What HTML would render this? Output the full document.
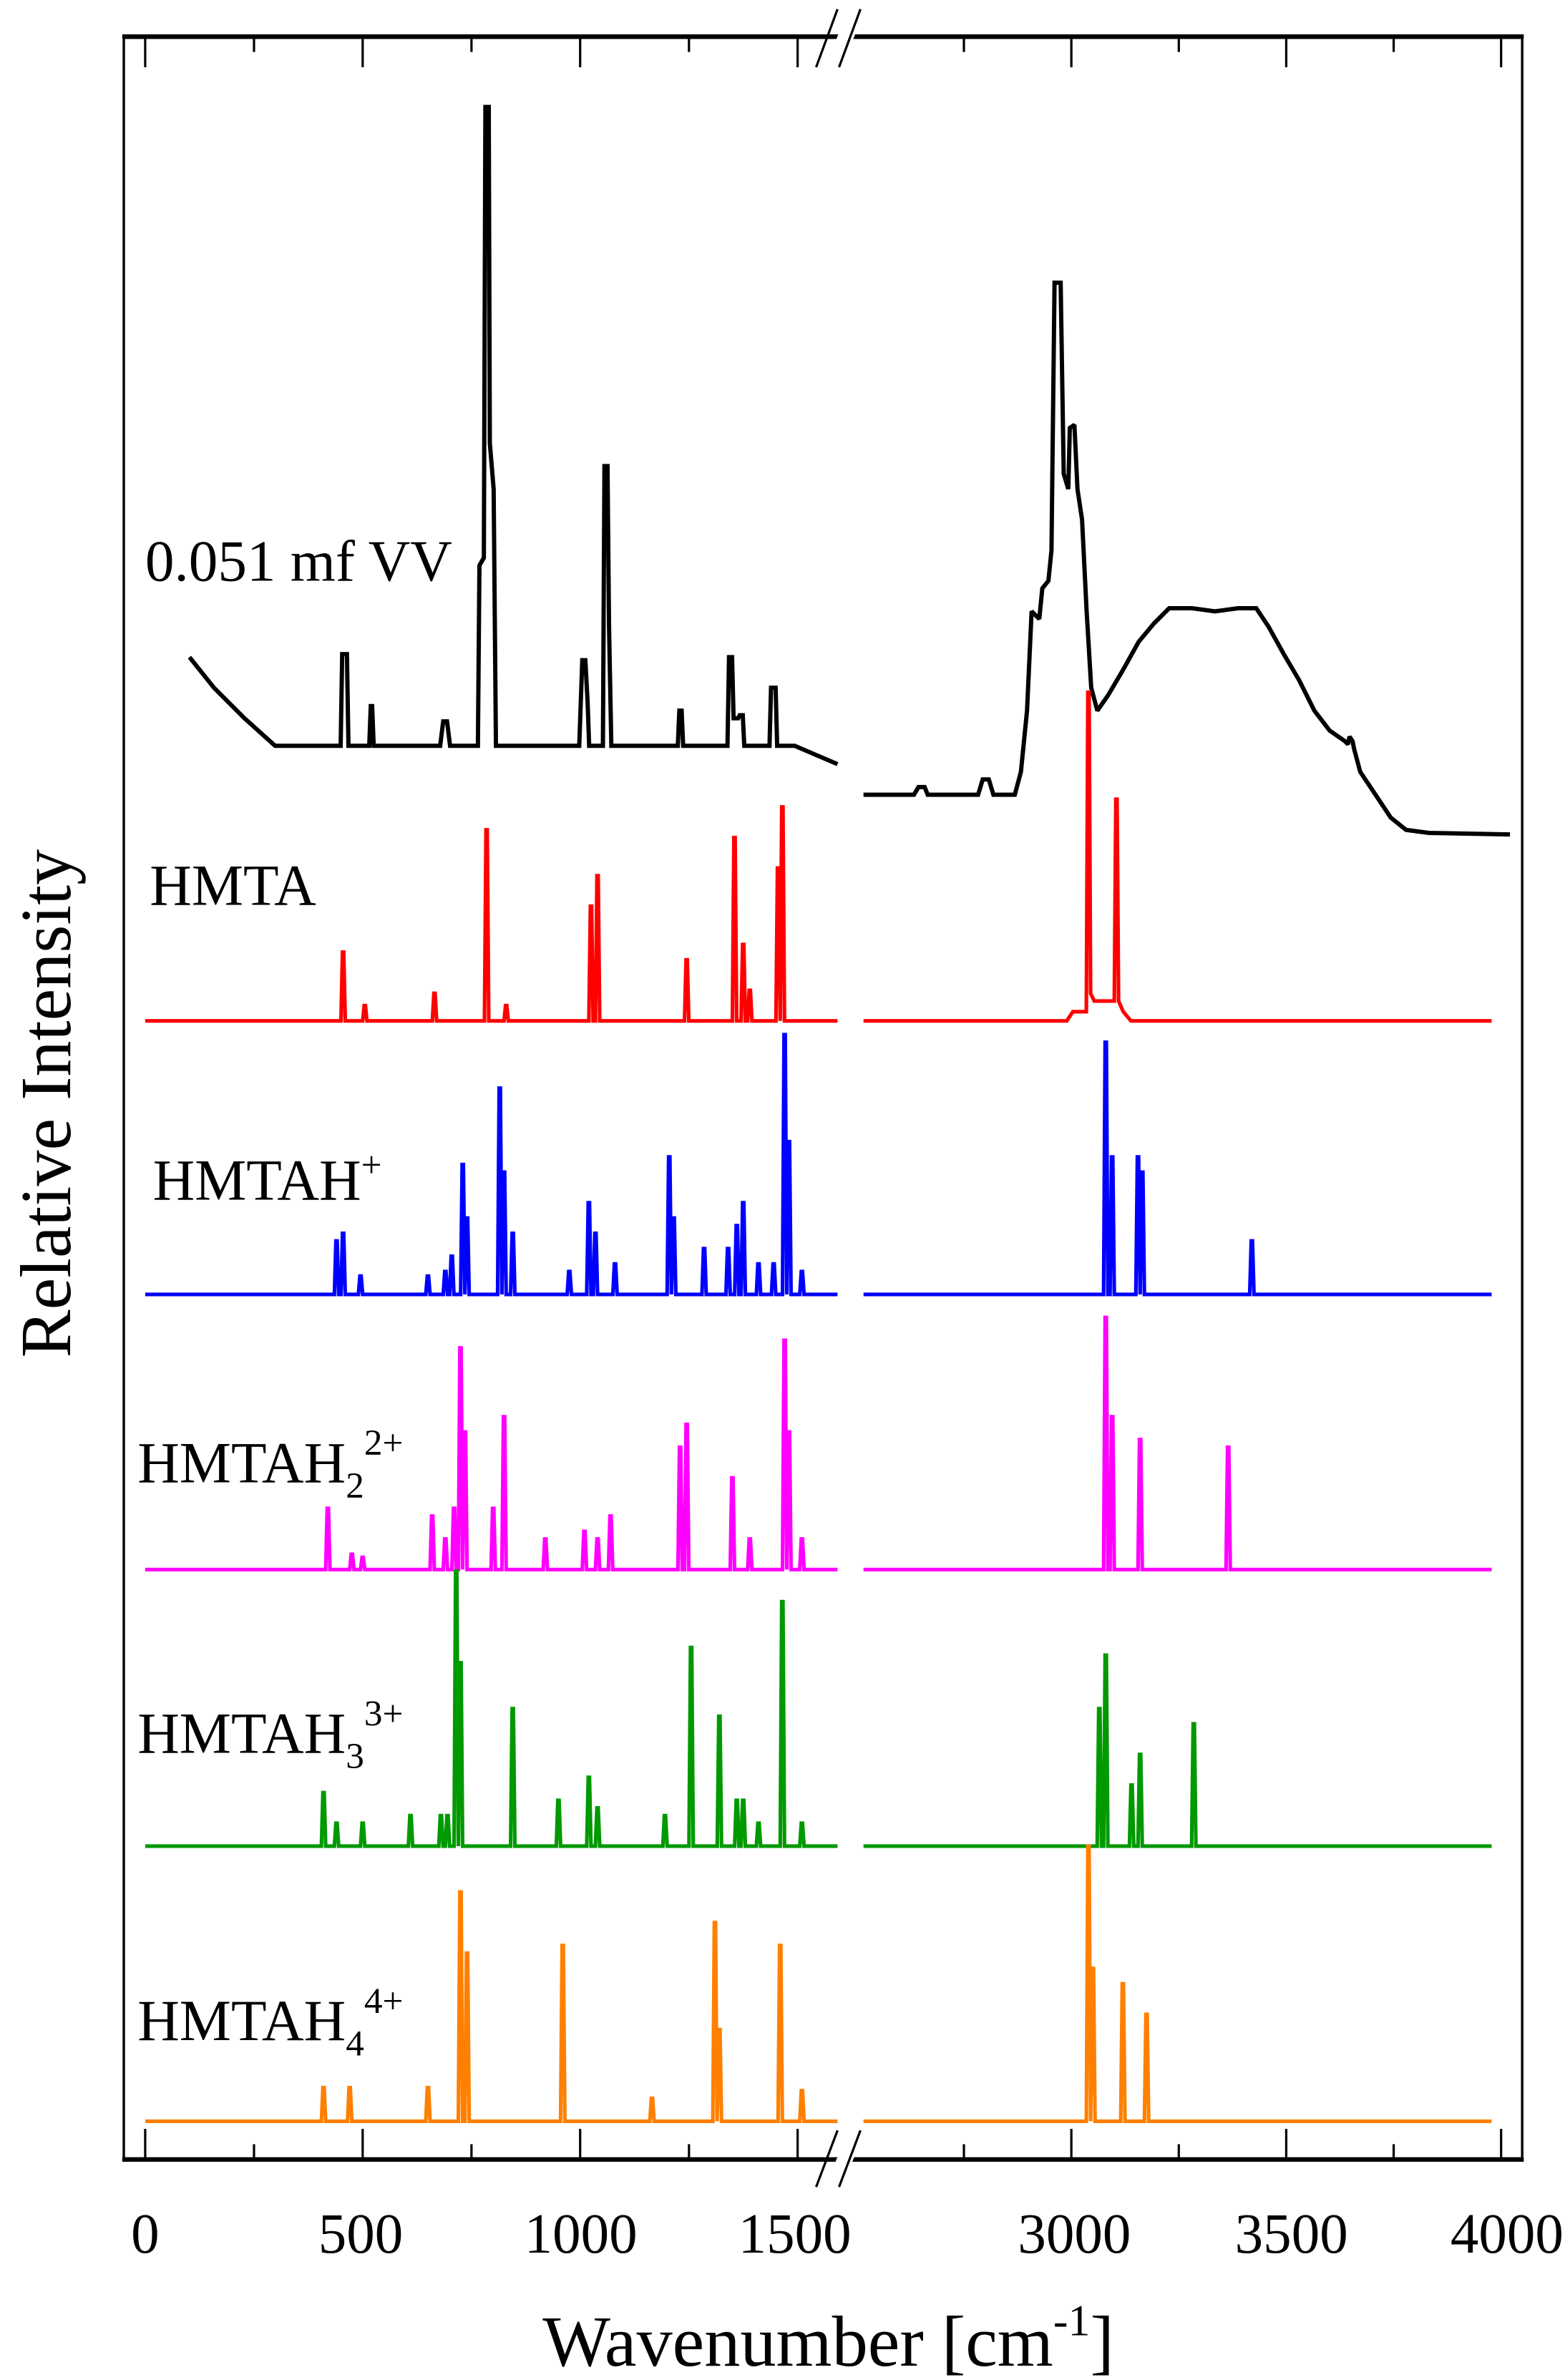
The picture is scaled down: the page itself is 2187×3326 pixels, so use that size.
<!DOCTYPE html>
<html><head><meta charset="utf-8"><style>html,body{margin:0;padding:0;background:#fff}svg{display:block}</style></head>
<body>
<svg width="2187" height="3326" viewBox="0 0 1024 1557.3" xmlns="http://www.w3.org/2000/svg" font-family="Liberation Serif, serif">
<g fill="none" stroke-width="2.4" stroke-linejoin="miter" stroke-miterlimit="2">
<path stroke="#000" stroke-width="2.8" d="M124,430 L140,450 L160,470 L180,488 H222.9 L223.9,428 H227 L228,488 H241.6 L242.6,462 H243.5 L244.5,488 H288 L290,472 H292.5 L294.5,488 H312.7 L313.7,370 L316.6,365 L317.6,70 H319.8 L320.5,290 L323,320 L324.5,488 H379 L381,432 H383 L384.5,460 L385.5,488 H394.5 L395.5,305 H397.5 L398.5,410 L400,488 H443.5 L444.5,465 H446 L447,488 H476 L477,430 H479 L480,470 L483,470 L484,468 H486 L487,488 H503.5 L504.5,450 H507.5 L508.5,488 H520 L548,500"/>
<path stroke="#000" stroke-width="2.8" d="M565,520 H598 L601,515 H605 L607,520 H640 L643,510 H647 L650,520 H664 L668,505 L672,465 L675,400 L680,405 L682,385 L686,380 L688,360 L690,185 L694,185 L696,310 L699,320 L700,280 L703,278 L705,320 L708,340 L711,400 L714,450 L718,465 L725,455 L735,438 L745,420 L755,408 L765,398 L780,398 L795,400 L810,398 L822,398 L830,410 L840,428 L850,445 L860,465 L870,478 L880,485 L882,487 L883,482 L885,485 L886,490 L890,505 L900,520 L910,535 L920,543 L935,545 L988,546"/>
<path stroke="#ff0000" d="M95,668 H223.1 L224.1,623 H224.9 L225.9,668 H237.3 L238.3,658 H239.1 L240.1,668 H282.9 L283.9,650 H284.7 L285.7,668 H317 L318,543 H318.8 L319.8,668 H329.8 L330.8,658 H331.6 L332.6,668 H385.3 L386.3,593 H387.1 L388.1,668 H389.6 L390.6,573 H391.4 L392.4,668 H447.9 L448.9,628 H449.7 L450.7,668 H479.2 L480.2,548 H481 L482,668 H484.9 L485.9,618 H486.7 L487.7,668 H489.2 L490.2,648 H491 L492,668 H507.7 L508.7,568 H509.5 L510.5,668 L511.5,528 H512.3 L513.3,668 H548"/>
<path stroke="#ff0000" d="M565,668 H698 L702,662 H710.8 L711.8,453 H712.6 L713.6,650 L716,655 H729.1 L730.1,523 H730.9 L731.9,655 L735,662 L740,668 H976"/>
<path stroke="#0000ff" d="M95,847 H218.8 L219.8,812 H220.6 L221.6,847 H223.1 L224.1,807 H224.9 L225.9,847 H234.5 L235.5,835 H236.3 L237.3,847 H278.6 L279.6,835 H280.4 L281.4,847 H290 L291,832 H291.8 L292.8,847 H294.2 L295.2,822 H296 L297,847 H301.4 L302.4,762 H303.2 L304.2,847 L305.2,797 H306 L307,847 H325.6 L326.6,712 H327.4 L328.4,847 L329.4,767 H330.2 L331.2,847 H334.1 L335.1,807 H335.9 L336.9,847 H371.1 L372.1,832 H372.9 L373.9,847 H383.9 L384.9,787 H385.7 L386.7,847 H388.2 L389.2,807 H390 L391,847 H401 L402,827 H402.8 L403.8,847 H436.5 L437.5,757 H438.3 L439.3,847 L440.4,797 H441.2 L442.2,847 H459.3 L460.3,817 H461.1 L462.1,847 H475 L476,817 H476.8 L477.8,847 H480.7 L481.7,802 H482.5 L483.5,847 H484.9 L485.9,787 H486.7 L487.7,847 H494.9 L495.9,827 H496.7 L497.7,847 H504.8 L505.8,827 H506.6 L507.6,847 H512 L513,677 H513.8 L514.8,847 L515.8,747 H516.6 L517.6,847 H523.3 L524.3,832 H525.1 L526.1,847 H548"/>
<path stroke="#0000ff" d="M565,847 H722.1 L723.1,682 H723.9 L724.9,847 H726.3 L727.3,757 H728.1 L729.1,847 H743.2 L744.2,757 H745 L746,847 L747,767 H747.8 L748.8,847 H817.7 L818.7,812 H819.5 L820.5,847 H976"/>
<path stroke="#ff00ff" d="M95,1027 H213.1 L214.1,987 H214.9 L215.9,1027 H228.8 L229.8,1017 H230.6 L231.6,1027 H235.9 L236.9,1019 H237.7 L238.7,1027 H281.4 L282.4,992 H283.2 L284.2,1027 H290 L291,1007 H291.8 L292.8,1027 H295.7 L296.7,987 H297.5 L298.5,1027 H299.9 L300.9,882 H301.7 L302.7,1027 L303.8,937 H304.6 L305.6,1027 H321.3 L322.3,987 H323.1 L324.1,1027 H328.4 L329.4,927 H330.2 L331.2,1027 H355.4 L356.4,1007 H357.2 L358.2,1027 H381 L382,1002 H382.8 L383.8,1027 H389.6 L390.6,1007 H391.4 L392.4,1027 H398.1 L399.1,992 H399.9 L400.9,1027 H443.6 L444.6,947 H445.4 L446.4,1027 H447.9 L448.9,932 H449.7 L450.7,1027 H477.8 L478.8,967 H479.6 L480.6,1027 H489.2 L490.2,1007 H491 L492,1027 H512 L513,877 H513.8 L514.8,1027 L515.8,937 H516.6 L517.6,1027 H523.3 L524.3,1007 H525.1 L526.1,1027 H548"/>
<path stroke="#ff00ff" d="M565,1027 H722.1 L723.1,862 H723.9 L724.9,1027 H726.3 L727.3,927 H728.1 L729.1,1027 H744.6 L745.6,942 H746.4 L747.4,1027 H802.2 L803.2,947 H804 L805,1027 H976"/>
<path stroke="#009900" d="M95,1208 H210.3 L211.3,1173 H212.1 L213.1,1208 H218.8 L219.8,1193 H220.6 L221.6,1208 H235.9 L236.9,1193 H237.7 L238.7,1208 H267.2 L268.2,1188 H269 L270,1208 H287.1 L288.1,1188 H288.9 L289.9,1208 H291.4 L292.4,1188 H293.2 L294.2,1208 H297.1 L298.1,1028 H298.9 L299.9,1208 L300.9,1088 H301.7 L302.7,1208 H334.1 L335.1,1118 H335.9 L336.9,1208 H364 L365,1178 H365.8 L366.8,1208 H383.9 L384.9,1163 H385.7 L386.7,1208 H389.6 L390.6,1183 H391.4 L392.4,1208 H433.7 L434.7,1188 H435.5 L436.5,1208 H450.8 L451.8,1078 H452.6 L453.6,1208 H469.3 L470.3,1123 H471.1 L472.1,1208 H480.7 L481.7,1178 H482.5 L483.5,1208 H484.9 L485.9,1178 H486.7 L487.7,1208 H494.9 L495.9,1193 H496.7 L497.7,1208 H510.5 L511.5,1048 H512.3 L513.3,1208 H523.3 L524.3,1193 H525.1 L526.1,1208 H548"/>
<path stroke="#009900" d="M565,1208 H717.9 L718.9,1118 H719.7 L720.7,1208 H722.1 L723.1,1083 H723.9 L724.9,1208 H739 L740,1168 H740.8 L741.8,1208 H744.6 L745.6,1148 H746.4 L747.4,1208 H779.7 L780.7,1128 H781.5 L782.5,1208 H976"/>
<path stroke="#ff8000" d="M95,1388 H210.3 L211.3,1366 H212.1 L213.1,1388 H227.4 L228.4,1366 H229.2 L230.2,1388 H278.6 L279.6,1366 H280.4 L281.4,1388 H299.9 L300.9,1238 H301.7 L302.7,1388 H304.2 L305.2,1278 H306 L307,1388 H366.8 L367.8,1273 H368.6 L369.6,1388 H425.2 L426.2,1373 H427 L428,1388 H466.4 L467.4,1258 H468.2 L469.2,1388 L470.3,1328 H471.1 L472.1,1388 H509.1 L510.1,1273 H510.9 L511.9,1388 H523.3 L524.3,1368 H525.1 L526.1,1388 H548"/>
<path stroke="#ff8000" d="M565,1388 H710.8 L711.8,1208 H712.6 L713.6,1388 L714.7,1288 H715.5 L716.5,1388 H733.3 L734.3,1298 H735.1 L736.1,1388 H748.8 L749.8,1318 H750.6 L751.6,1388 H976"/>
</g>
<g stroke="#000" fill="none">
<rect x="81" y="24" width="915" height="1389" stroke-width="1.6"/>
<line x1="80" y1="24" x2="997" y2="24" stroke-width="3"/>
<line x1="80" y1="1413" x2="997" y2="1413" stroke-width="3"/>
</g>
<g stroke="#000" stroke-width="1.5">
<line x1="95" y1="24" x2="95" y2="44"/><line x1="95" y1="1413" x2="95" y2="1393"/>
<line x1="166.2" y1="24" x2="166.2" y2="34"/><line x1="166.2" y1="1413" x2="166.2" y2="1403"/>
<line x1="237.3" y1="24" x2="237.3" y2="44"/><line x1="237.3" y1="1413" x2="237.3" y2="1393"/>
<line x1="308.5" y1="24" x2="308.5" y2="34"/><line x1="308.5" y1="1413" x2="308.5" y2="1403"/>
<line x1="379.6" y1="24" x2="379.6" y2="44"/><line x1="379.6" y1="1413" x2="379.6" y2="1393"/>
<line x1="450.8" y1="24" x2="450.8" y2="34"/><line x1="450.8" y1="1413" x2="450.8" y2="1403"/>
<line x1="521.9" y1="24" x2="521.9" y2="44"/><line x1="521.9" y1="1413" x2="521.9" y2="1393"/>
<line x1="630.7" y1="24" x2="630.7" y2="34"/><line x1="630.7" y1="1413" x2="630.7" y2="1403"/>
<line x1="701" y1="24" x2="701" y2="44"/><line x1="701" y1="1413" x2="701" y2="1393"/>
<line x1="771.3" y1="24" x2="771.3" y2="34"/><line x1="771.3" y1="1413" x2="771.3" y2="1403"/>
<line x1="841.6" y1="24" x2="841.6" y2="44"/><line x1="841.6" y1="1413" x2="841.6" y2="1393"/>
<line x1="911.9" y1="24" x2="911.9" y2="34"/><line x1="911.9" y1="1413" x2="911.9" y2="1403"/>
<line x1="982.2" y1="24" x2="982.2" y2="44"/><line x1="982.2" y1="1413" x2="982.2" y2="1393"/>
</g>
<g>
<polygon points="540,1431 555,1394 566,1394 551,1431" fill="#fff"/>
<line x1="534" y1="1431" x2="548" y2="1394" stroke="#000" stroke-width="1.5"/>
<line x1="549" y1="1431" x2="563" y2="1394" stroke="#000" stroke-width="1.5"/>
<polygon points="540,44 555,6 566,6 551,44" fill="#fff"/>
<line x1="534" y1="44" x2="548" y2="6" stroke="#000" stroke-width="1.5"/>
<line x1="549" y1="44" x2="563" y2="6" stroke="#000" stroke-width="1.5"/>
</g>
<g font-size="37" text-anchor="middle" fill="#000">
<text x="95" y="1474">0</text><text x="236" y="1474">500</text><text x="380" y="1474">1000</text><text x="520" y="1474">1500</text>
<text x="703" y="1474">3000</text><text x="845" y="1474">3500</text><text x="986" y="1474">4000</text>
</g>
<text x="542" y="1548" font-size="47" text-anchor="middle">Wavenumber [cm<tspan font-size="29" dy="-20">-1</tspan><tspan dy="20">]</tspan></text>
<text transform="translate(46,722) rotate(-90)" font-size="47" text-anchor="middle">Relative Intensity</text>
<g font-size="38" fill="#000">
<text x="95" y="380">0.051 mf VV</text>
<text x="98" y="592">HMTA</text>
<text x="100" y="785">HMTAH<tspan font-size="24" dy="-15">+</tspan></text>
<text x="90" y="970">HMTAH<tspan font-size="24" dy="10">2</tspan><tspan font-size="24" dy="-28">2+</tspan></text>
<text x="90" y="1147">HMTAH<tspan font-size="24" dy="10">3</tspan><tspan font-size="24" dy="-28">3+</tspan></text>
<text x="90" y="1335">HMTAH<tspan font-size="24" dy="10">4</tspan><tspan font-size="24" dy="-28">4+</tspan></text>
</g>
</svg>
</body></html>
